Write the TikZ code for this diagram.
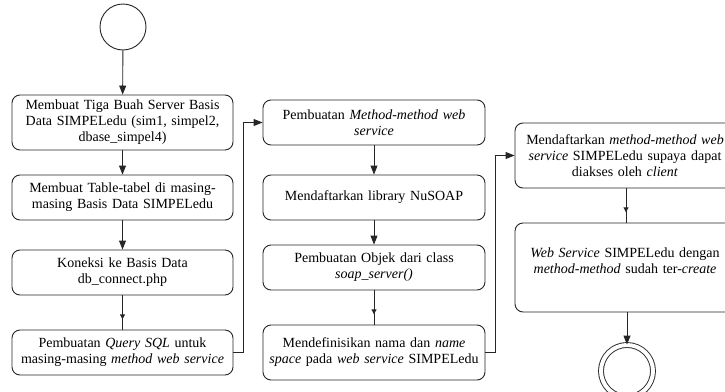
\documentclass[tikz,border=0pt]{standalone}
\usepackage{fontspec}
\setmainfont{Liberation Serif}
\usetikzlibrary{arrows.meta,decorations.markings}
\begin{document}
\begin{tikzpicture}[x=1pt,y=-1pt,
 box/.style={draw=black!85, line width=0.9pt, rounded corners=8pt, align=center, inner sep=0pt, text width=#1, font=\fontsize{14}{16}\selectfont},
 box/.default=221pt,
 arr/.style={draw=black!85, line width=0.9pt, -{Triangle[length=9pt,width=7pt]}},
 midarr/.style={draw=black!85, line width=0.9pt, postaction={decorate}, decoration={markings, mark=at position 0.7 with {\arrow{Triangle[length=5pt,width=5pt]}}}},
 startc/.style={draw=black!85, line width=0.9pt, circle, minimum size=46pt, inner sep=0pt},
 endc/.style={draw=black!85, line width=0.9pt, circle, minimum size=52pt, inner sep=0pt, double distance=4pt}]
\useasboundingbox (0,0) rectangle (725,391);
\clip (0,0) rectangle (725,391);
\fill[white] (0,0) rectangle (725,391);

\node[startc] (start) at (123,27) {};

\node[box, minimum height=55pt] (b1) at (122.5,122.5) {Membuat Tiga Buah Server Basis\\Data SIMPELedu (sim1, simpel2,\\dbase\_simpel4)};
\node[box, minimum height=45pt] (b2) at (122.5,197.5) {Membuat Table-tabel di masing-\\masing Basis Data SIMPELedu};
\node[box, minimum height=45pt] (b3) at (122.5,272.5) {Koneksi ke Basis Data\\db\_connect.php};
\node[box, minimum height=45pt] (b4) at (122.5,352.5) {Pembuatan \emph{Query SQL} untuk\\masing-masing \emph{method web service}};

\node[box=222pt, minimum height=45pt] (b5) at (374,122.5) {Pembuatan \emph{Method-method web}\\\emph{service}};
\node[box=222pt, minimum height=45pt] (b6) at (374,197.5) {Mendaftarkan library NuSOAP};
\node[box=222pt, minimum height=45pt] (b7) at (374,267.5) {Pembuatan Objek dari class\\\emph{soap\_server()}};
\node[box=222pt, minimum height=55pt] (b8) at (374,352.5) {Mendefinisikan nama dan \emph{name}\\\emph{space} pada \emph{web service} SIMPELedu};

\node[box=220pt, minimum height=65pt] (b9) at (625,155.5) {Mendaftarkan \emph{method-method web}\\\emph{service} SIMPELedu supaya dapat\\diakses oleh \emph{client}};
\node[box=220pt, minimum height=89pt] (b10) at (625,267.5) {\emph{Web Service} SIMPELedu dengan\\\emph{method-method} sudah ter-\emph{create}\\[-3pt]~};

\node[endc] (end) at (627,371) {};

\draw[arr] (start) -- (b1);
\draw[arr] (b1) -- (b2);
\draw[arr] (b2) -- (b3);
\draw[midarr] (b3) -- (b4);
\draw[arr] (b4.east) -- (243,352.5) -- (243,122.5) -- (b5.west);
\draw[arr] (b5) -- (b6);
\draw[arr] (b6) -- (b7);
\draw[midarr] (b7) -- (b8);
\draw[arr] (b8.east) -- (495,352.5) -- (495,155.5) -- (b9.west);
\draw[midarr] (b9.south -| 626,0) -- (b10.north -| 626,0);
\draw[arr] (b10.south -| 627,0) -- (end);
\end{tikzpicture}
\end{document}
